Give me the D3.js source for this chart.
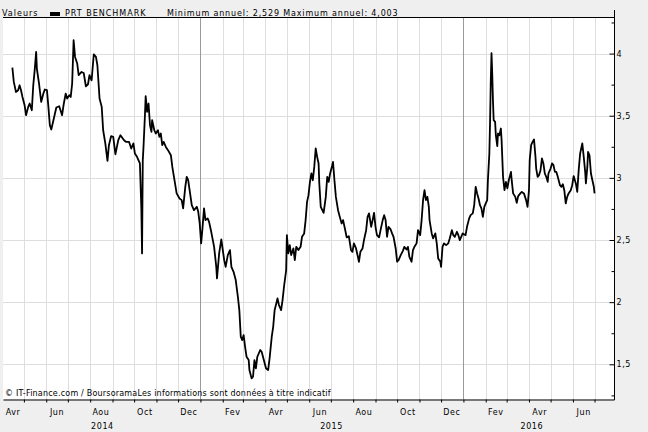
<!DOCTYPE html>
<html><head><meta charset="utf-8">
<script src="https://cdn.jsdelivr.net/npm/d3@7"></script>
<style>body{margin:0;background:#efefef}svg{display:block}text{font-family:"DejaVu Sans",Verdana,sans-serif;fill:#000}</style>
</head><body><svg id="c" width="648" height="432"></svg>
<script>
const dates = ["2014-04-15","2014-04-17","2014-04-20","2014-04-23","2014-04-25","2014-04-27","2014-04-29","2014-05-02","2014-05-04","2014-05-07","2014-05-09","2014-05-12","2014-05-14","2014-05-16","2014-05-18","2014-05-19","2014-05-22","2014-05-25","2014-05-28","2014-05-30","2014-06-02","2014-06-04","2014-06-06","2014-06-08","2014-06-11","2014-06-15","2014-06-19","2014-06-23","2014-06-25","2014-06-28","2014-06-30","2014-07-03","2014-07-05","2014-07-07","2014-07-09","2014-07-11","2014-07-14","2014-07-16","2014-07-20","2014-07-23","2014-07-26","2014-07-29","2014-07-31","2014-08-03","2014-08-06","2014-08-09","2014-08-11","2014-08-14","2014-08-17","2014-08-19","2014-08-22","2014-08-25","2014-08-27","2014-08-30","2014-09-02","2014-09-05","2014-09-09","2014-09-12","2014-09-17","2014-09-20","2014-09-24","2014-09-27","2014-09-30","2014-10-02","2014-10-05","2014-10-09","2014-10-11","2014-10-12","2014-10-13","2014-10-14","2014-10-16","2014-10-17","2014-10-19","2014-10-21","2014-10-23","2014-10-25","2014-10-26","2014-10-29","2014-10-31","2014-11-03","2014-11-05","2014-11-07","2014-11-09","2014-11-11","2014-11-14","2014-11-17","2014-11-21","2014-11-23","2014-11-26","2014-11-29","2014-12-03","2014-12-06","2014-12-08","2014-12-11","2014-12-13","2014-12-15","2014-12-17","2014-12-20","2014-12-23","2014-12-27","2014-12-29","2014-12-31","2015-01-02","2015-01-04","2015-01-06","2015-01-08","2015-01-11","2015-01-13","2015-01-16","2015-01-20","2015-01-23","2015-01-24","2015-01-27","2015-01-30","2015-02-03","2015-02-05","2015-02-08","2015-02-11","2015-02-13","2015-02-16","2015-02-19","2015-02-22","2015-02-24","2015-02-26","2015-02-28","2015-03-02","2015-03-04","2015-03-06","2015-03-09","2015-03-10","2015-03-13","2015-03-15","2015-03-17","2015-03-19","2015-03-21","2015-03-25","2015-03-27","2015-03-30","2015-04-02","2015-04-05","2015-04-07","2015-04-10","2015-04-12","2015-04-14","2015-04-18","2015-04-20","2015-04-23","2015-04-25","2015-04-27","2015-04-30","2015-05-01","2015-05-03","2015-05-05","2015-05-07","2015-05-10","2015-05-12","2015-05-14","2015-05-17","2015-05-20","2015-05-22","2015-05-25","2015-05-27","2015-05-29","2015-05-31","2015-06-02","2015-06-04","2015-06-06","2015-06-08","2015-06-10","2015-06-12","2015-06-14","2015-06-15","2015-06-17","2015-06-21","2015-06-24","2015-06-26","2015-06-28","2015-06-30","2015-07-03","2015-07-04","2015-07-06","2015-07-08","2015-07-11","2015-07-14","2015-07-16","2015-07-18","2015-07-21","2015-07-23","2015-07-26","2015-07-29","2015-07-31","2015-08-02","2015-08-05","2015-08-07","2015-08-09","2015-08-11","2015-08-14","2015-08-16","2015-08-19","2015-08-21","2015-08-23","2015-08-26","2015-08-28","2015-08-30","2015-09-01","2015-09-03","2015-09-06","2015-09-08","2015-09-11","2015-09-13","2015-09-15","2015-09-17","2015-09-19","2015-09-22","2015-09-24","2015-09-26","2015-09-29","2015-10-01","2015-10-03","2015-10-06","2015-10-09","2015-10-11","2015-10-14","2015-10-16","2015-10-18","2015-10-21","2015-10-23","2015-10-25","2015-10-28","2015-10-30","2015-11-02","2015-11-04","2015-11-06","2015-11-08","2015-11-10","2015-11-12","2015-11-14","2015-11-15","2015-11-18","2015-11-20","2015-11-23","2015-11-25","2015-11-27","2015-11-30","2015-12-01","2015-12-03","2015-12-05","2015-12-08","2015-12-11","2015-12-13","2015-12-16","2015-12-18","2015-12-20","2015-12-23","2015-12-25","2015-12-27","2015-12-30","2015-12-31","2016-01-04","2016-01-06","2016-01-09","2016-01-11","2016-01-14","2016-01-16","2016-01-18","2016-01-20","2016-01-22","2016-01-24","2016-01-26","2016-01-28","2016-01-30","2016-02-01","2016-02-03","2016-02-04","2016-02-06","2016-02-07","2016-02-08","2016-02-09","2016-02-10","2016-02-11","2016-02-12","2016-02-14","2016-02-15","2016-02-17","2016-02-18","2016-02-20","2016-02-22","2016-02-23","2016-02-25","2016-02-27","2016-02-29","2016-03-02","2016-03-04","2016-03-07","2016-03-08","2016-03-10","2016-03-13","2016-03-15","2016-03-17","2016-03-20","2016-03-22","2016-03-25","2016-03-28","2016-03-30","2016-04-01","2016-04-02","2016-04-04","2016-04-06","2016-04-08","2016-04-10","2016-04-11","2016-04-13","2016-04-15","2016-04-17","2016-04-19","2016-04-21","2016-04-23","2016-04-25","2016-04-27","2016-04-28","2016-05-01","2016-05-03","2016-05-05","2016-05-07","2016-05-09","2016-05-11","2016-05-14","2016-05-16","2016-05-18","2016-05-20","2016-05-22","2016-05-24","2016-05-26","2016-05-29","2016-05-31","2016-06-02","2016-06-05","2016-06-07","2016-06-09","2016-06-11","2016-06-12","2016-06-14","2016-06-16","2016-06-18","2016-06-19","2016-06-21","2016-06-22","2016-06-24","2016-06-26","2016-06-28","2016-06-30","2016-07-01"];
const values = [3.887,3.772,3.691,3.705,3.745,3.705,3.651,3.584,3.504,3.571,3.598,3.544,3.745,3.866,4.013,3.879,3.759,3.611,3.678,3.711,3.705,3.571,3.424,3.389,3.464,3.566,3.576,3.504,3.584,3.678,3.638,3.665,3.651,3.759,4.107,3.973,3.920,3.826,3.852,3.844,3.737,3.753,3.826,3.785,3.994,3.973,3.906,3.638,3.571,3.383,3.277,3.137,3.263,3.335,3.330,3.190,3.303,3.343,3.303,3.289,3.289,3.236,3.277,3.196,3.169,3.116,2.754,2.392,3.142,3.249,3.504,3.657,3.531,3.598,3.424,3.370,3.464,3.383,3.357,3.383,3.330,3.357,3.263,3.289,3.249,3.223,3.182,3.088,2.981,2.875,2.834,2.821,2.754,2.928,3.008,2.981,2.901,2.780,2.740,2.767,2.727,2.633,2.473,2.606,2.754,2.660,2.674,2.646,2.566,2.445,2.284,2.191,2.392,2.505,2.338,2.284,2.379,2.419,2.284,2.244,2.178,2.043,1.936,1.722,1.695,1.735,1.641,1.561,1.534,1.454,1.387,1.400,1.534,1.468,1.561,1.615,1.601,1.534,1.468,1.454,1.548,1.722,1.802,1.936,2.030,1.977,1.936,2.017,2.124,2.258,2.539,2.392,2.459,2.379,2.432,2.338,2.445,2.419,2.445,2.526,2.553,2.660,2.807,2.861,2.968,3.035,2.981,3.088,3.236,3.169,3.116,2.955,2.767,2.719,2.847,3.008,2.968,3.035,3.102,3.129,2.981,2.847,2.740,2.674,2.633,2.660,2.579,2.521,2.531,2.419,2.405,2.473,2.432,2.379,2.325,2.405,2.432,2.499,2.579,2.686,2.714,2.606,2.660,2.719,2.606,2.539,2.521,2.579,2.660,2.700,2.660,2.526,2.606,2.585,2.553,2.526,2.432,2.325,2.338,2.379,2.413,2.445,2.424,2.445,2.365,2.325,2.419,2.445,2.473,2.579,2.539,2.660,2.821,2.901,2.821,2.847,2.767,2.660,2.553,2.513,2.553,2.473,2.352,2.325,2.284,2.445,2.473,2.459,2.473,2.513,2.579,2.539,2.526,2.566,2.539,2.499,2.539,2.553,2.539,2.606,2.674,2.700,2.714,2.780,2.928,2.875,2.834,2.780,2.754,2.686,2.767,2.794,2.821,2.981,3.196,3.450,3.785,4.003,3.839,3.625,3.464,3.450,3.343,3.255,3.357,3.343,3.397,3.303,3.008,2.901,2.968,2.915,2.981,3.048,2.981,2.875,2.847,2.799,2.853,2.875,2.887,2.875,2.821,2.767,2.901,3.142,3.263,3.289,3.309,3.169,3.075,3.008,3.022,3.062,3.156,3.116,3.035,3.008,2.968,3.035,3.075,3.116,3.102,3.048,3.048,3.008,2.941,2.928,2.949,2.901,2.794,2.847,2.875,2.901,2.941,3.014,2.955,2.887,3.062,3.196,3.223,3.277,3.169,3.048,2.955,3.088,3.209,3.182,3.035,2.981,2.928,2.875];

const yTicks = [1.5, 2, 2.5, 3, 3.5, 4];
const yMinorTicks = [1.25, 1.75, 2.25, 2.75, 3.25, 3.75, 4.25];
const yTickLabels = ["1,5", "2", "2,5", "3", "3,5", "4"];
const monthLabels = ["Avr","Jun","Aou","Oct","Dec","Fev","Avr","Jun","Aou","Oct","Dec","Fev","Avr","Jun"];
const monthLabelDates = ["2014-04-16","2014-06-16","2014-08-16","2014-10-16","2014-12-16","2015-02-15","2015-04-16","2015-06-16","2015-08-16","2015-10-16","2015-12-16","2016-02-15","2016-04-16","2016-06-16"];
const yearLabels = ["2014","2015","2016"];
const yearLabelDates = ["2014-08-18","2015-07-02","2016-04-05"];
const legendLabel = "Valeurs";
const seriesName = "PRT BENCHMARK";
const statsText = "Minimum annuel: 2,529 Maximum annuel: 4,003";
const creditText = "\u00a9 IT-Finance.com / BoursoramaLes informations sont données à titre indicatif";

const L = 3, R = 614, T = 18, B = 399;
const parse = d3.utcParse("%Y-%m-%d");
const data = dates.map((d, i) => ({date: parse(d), value: values[i]}));
const x = d3.scaleUtc().domain([parse("2014-04-02"), parse("2016-07-28")]).range([L, R]);
const y = d3.scaleLinear().domain([1.221, 4.286]).range([B, T]);

const svg = d3.select("#c");
svg.append("rect").attr("width", 648).attr("height", 432).attr("fill", "#efefef");
svg.append("rect").attr("x", L).attr("y", T).attr("width", R - L).attr("height", B - T).attr("fill", "#fff");

const months = d3.utcMonth.range(x.domain()[0], x.domain()[1]);
// horizontal grid
svg.append("g").selectAll("line").data(yTicks).join("line")
  .attr("x1", L).attr("x2", R)
  .attr("y1", d => Math.round(y(d)) + 0.5).attr("y2", d => Math.round(y(d)) + 0.5)
  .attr("stroke", "#dedede").attr("stroke-width", 1);
// vertical grid
svg.append("g").selectAll("line").data(months).join("line")
  .attr("x1", d => Math.round(x(d)) + 0.5).attr("x2", d => Math.round(x(d)) + 0.5)
  .attr("y1", T).attr("y2", B)
  .attr("stroke", d => d.getUTCMonth() === 0 ? "#9a9a9a" : "#dedede").attr("stroke-width", 1);

// series line
svg.append("path").datum(data)
  .attr("fill", "none").attr("stroke", "#000").attr("stroke-width", 1.8)
  .attr("stroke-linejoin", "round")
  .attr("d", d3.line().x(d => x(d.date)).y(d => y(d.value)));

// top frame line
svg.append("line").attr("x1", L).attr("x2", R).attr("y1", T - 0.5).attr("y2", T - 0.5).attr("stroke", "#000");

// bottom axis
const xAxis = svg.append("g").attr("transform", `translate(0,${B + 0.5})`)
  .call(d3.axisBottom(x).tickValues(months).tickSizeInner(3).tickSizeOuter(0).tickFormat(""));
xAxis.select(".domain").attr("stroke", "#000");
xAxis.selectAll(".tick line").attr("stroke", "#000");

svg.append("g").selectAll("text").data(monthLabels).join("text")
  .attr("x", (d, i) => x(parse(monthLabelDates[i])))
  .attr("y", 415).attr("text-anchor", "middle")
  .attr("font-size", 8).attr("letter-spacing", 0.6).text(d => d);
svg.append("g").selectAll("text").data(yearLabels).join("text")
  .attr("x", (d, i) => x(parse(yearLabelDates[i])))
  .attr("y", 429).attr("text-anchor", "middle")
  .attr("font-size", 8).attr("letter-spacing", 0.6).text(d => d);

// right axis
svg.append("line").attr("x1", R + 0.5).attr("x2", R + 0.5).attr("y1", 10).attr("y2", B + 1).attr("stroke", "#000");
const yAxis = svg.append("g").attr("transform", `translate(${R + 0.5},0)`)
  .call(d3.axisRight(y).tickValues(yTicks).tickSizeInner(-5).tickSizeOuter(0).tickPadding(2)
    .tickFormat((d, i) => yTickLabels[i]));
yAxis.select(".domain").remove();
yAxis.selectAll(".tick line").attr("stroke", "#000");
yAxis.selectAll(".tick text").attr("font-family", "DejaVu Sans").attr("font-size", 8).attr("letter-spacing", 0.6).attr("fill", "#000");
const yMinorAxis = svg.append("g").attr("transform", `translate(${R + 0.5},0)`)
  .call(d3.axisRight(y).tickValues(yMinorTicks).tickSizeInner(-3).tickSizeOuter(0).tickFormat(""));
yMinorAxis.select(".domain").remove();
yMinorAxis.selectAll(".tick line").attr("stroke", "#000");

// legend
svg.append("text").attr("x", 2).attr("y", 16).attr("font-size", 8).attr("letter-spacing", 1).text(legendLabel);
svg.append("rect").attr("x", 50).attr("y", 12).attr("width", 10).attr("height", 4).attr("fill", "#000");
svg.append("text").attr("x", 65).attr("y", 16).attr("font-size", 8).attr("letter-spacing", 1).text(seriesName);
svg.append("text").attr("x", 167).attr("y", 16).attr("font-size", 8).attr("letter-spacing", 0.85).text(statsText);

// credit
svg.append("text").attr("x", 5).attr("y", 396).attr("font-size", 8).attr("letter-spacing", 0.2).text(creditText);
</script></body></html>
